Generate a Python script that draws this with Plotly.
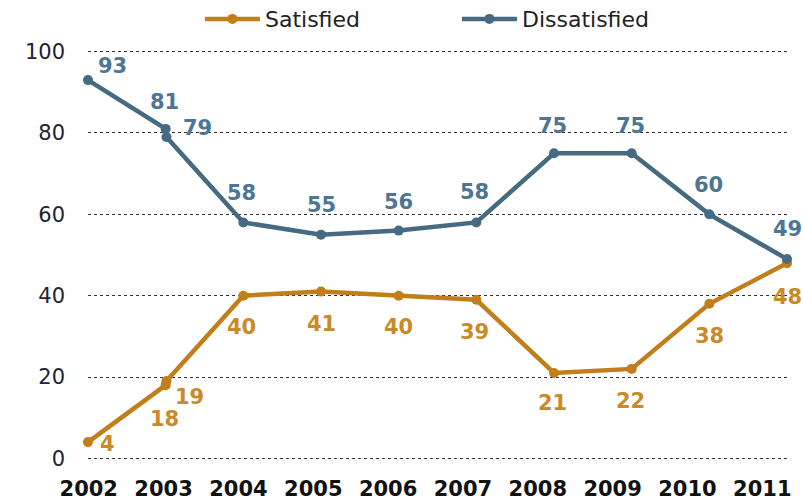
import plotly.graph_objects as go

# ---- data ----
survey_x = [2002, 2003, 2003.01, 2004, 2005, 2006, 2007, 2008, 2009, 2010, 2011]
satisfied = [4, 18, 19, 40, 41, 40, 39, 21, 22, 38, 48]
dissatisfied = [93, 81, 79, 58, 55, 56, 58, 75, 75, 60, 49]
year_ticks = [2002, 2003, 2004, 2005, 2006, 2007, 2008, 2009, 2010, 2011]
year_labels = [str(y) for y in year_ticks]
y_ticks = [0, 20, 40, 60, 80, 100]

# ---- styles / label offsets (px) ----
SAT_COLOR = "#C17E1A"
SAT_TEXT = "#C98A28"
DIS_COLOR = "#456A82"
DIS_TEXT = "#4D7595"
FONT = "DejaVu Sans"

dis_dx = [24, -1, 31, -2, 0, 0, -2, -2, -1, -1, 0]
dis_dy = [14, 27, 9, 29, 30, 29, 30, 27, 27, 29, 30]
sat_dx = [19, -1, 23, -2, 0, 0, -2, -2, -1, 0, 0]
sat_dy = [-2, -34, -16, -31, -32, -31, -32, -30, -32, -32, -34]

fig = go.Figure()
fig.add_trace(go.Scatter(
    x=survey_x, y=satisfied, name="Satisfied", mode="lines+markers",
    line=dict(color=SAT_COLOR, width=4.5), marker=dict(color=SAT_COLOR, size=10),
    cliponaxis=False, hoverinfo="skip"))
fig.add_trace(go.Scatter(
    x=survey_x, y=dissatisfied, name="Dissatisfied", mode="lines+markers",
    line=dict(color=DIS_COLOR, width=4.5), marker=dict(color=DIS_COLOR, size=10),
    cliponaxis=False, hoverinfo="skip"))
# invisible trace carrying the year tick axis
fig.add_trace(go.Scatter(x=year_ticks, y=[None] * len(year_ticks), xaxis="x2",
                         showlegend=False, hoverinfo="skip", mode="markers"))

annotations = []
for xv, v, dx, dy in zip(survey_x, dissatisfied, dis_dx, dis_dy):
    annotations.append(dict(x=xv, y=v, text=str(v), showarrow=False, xshift=dx, yshift=dy,
                            font=dict(family=FONT, size=21, color=DIS_TEXT, weight="bold")))
for xv, v, dx, dy in zip(survey_x, satisfied, sat_dx, sat_dy):
    annotations.append(dict(x=xv, y=v, text=str(v), showarrow=False, xshift=dx, yshift=dy,
                            font=dict(family=FONT, size=21, color=SAT_TEXT, weight="bold")))

fig.update_layout(
    width=803, height=502,
    margin=dict(l=88, r=16, t=50, b=42, autoexpand=False),
    plot_bgcolor="white", paper_bgcolor="white",
    font=dict(family=FONT, color="#222222"),
    showlegend=True,
    legend=dict(orientation="h", xref="container", yref="container",
                x=0.249, y=0.962, xanchor="left", yanchor="middle",
                font=dict(family=FONT, size=22, color="#222222"),
                itemwidth=55, entrywidth=187, bgcolor="rgba(0,0,0,0)"),
    xaxis=dict(range=[2002, 2011], showgrid=False, zeroline=False, showline=False,
               showticklabels=False, ticks=""),
    xaxis2=dict(range=[2001.99, 2011.33], overlaying="x", anchor="y", side="bottom",
                tickvals=year_ticks, ticktext=year_labels, showgrid=False, zeroline=False,
                showline=False, ticks="", ticklabelstandoff=14,
                tickfont=dict(family=FONT, size=21, color="#111111", weight="bold")),
    yaxis=dict(range=[-0.4, 100.4], tickvals=y_ticks, showgrid=True, gridcolor="#333333",
               griddash="dot", gridwidth=1, zeroline=False, showline=False, ticks="",
               ticklabelstandoff=22,
               tickfont=dict(family=FONT, size=21, color="#222233")),
    annotations=annotations,
)

fig.write_html("out.html", config={"displayModeBar": False},
               post_script="document.body.style.margin='0';")
